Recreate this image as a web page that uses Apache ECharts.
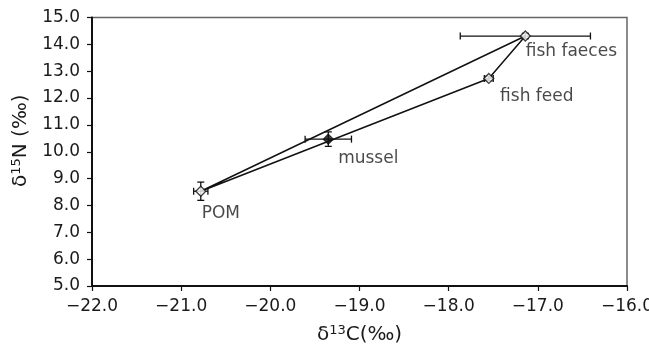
<!DOCTYPE html>
<html>
<head>
<meta charset="utf-8">
<script src="https://cdn.jsdelivr.net/npm/echarts@6/dist/echarts.min.js"></script>
<style>
  html, body { margin: 0; padding: 0; background: #fff; }
  #chart { width: 649px; height: 352px; }
</style>
</head>
<body>
<div id="chart"></div>
<script>
// sources measured
const sources = ['POM', 'mussel', 'fish feed', 'fish faeces'];
const d13C = [-20.78, -19.35, -17.55, -17.14];
const d15N = [8.53, 10.47, 12.73, 14.31];
const errC = [0.08, 0.26, 0.05, 0.73];
const errN = [0.34, 0.27, 0.08, 0.1];
const filled = [false, true, false, false];
// mixing triangle: POM -> fish faeces -> fish feed -> POM
const polygonOrder = [0, 3, 2, 0];

const labelOffsets = [[20, 22], [40, 19], [48, 18], [46, 16]];

const fontFamily = '"DejaVu Sans", sans-serif';
const ink = '#1a1a1a';
const fmt = v => v.toFixed(1).replace('-', '\u2212');

const chart = echarts.init(document.getElementById('chart'));

const errorBars = {
  type: 'custom',
  z: 3,
  data: sources.map((s, i) => [d13C[i], d15N[i], errC[i], errN[i]]),
  renderItem: (params, api) => {
    const x = api.value(0), y = api.value(1), ex = api.value(2), ey = api.value(3);
    const l = api.coord([x - ex, y]), r = api.coord([x + ex, y]);
    const t = api.coord([x, y + ey]), b = api.coord([x, y - ey]);
    const cap = 3.5;
    const style = { stroke: '#111', lineWidth: 1.3 };
    const seg = (x1, y1, x2, y2) => ({ type: 'line', shape: { x1, y1, x2, y2 }, style });
    return {
      type: 'group',
      children: [
        seg(l[0], l[1], r[0], r[1]),
        seg(l[0], l[1] - cap, l[0], l[1] + cap),
        seg(r[0], r[1] - cap, r[0], r[1] + cap),
        seg(t[0], t[1], b[0], b[1]),
        seg(t[0] - cap, t[1], t[0] + cap, t[1]),
        seg(b[0] - cap, b[1], b[0] + cap, b[1])
      ]
    };
  }
};

const titleStyle = padding => ({
  fontFamily, fontSize: 20, color: ink, padding,
  rich: { sup: { fontFamily, fontSize: 13, verticalAlign: 'top', color: ink, padding: [0, 0, 9, 0] } }
});

const option = {
  animation: false,
  grid: {
    left: 92, right: 22, top: 17.5, bottom: 66,
    outerBoundsMode: 'none',
    show: true, borderColor: '#666', borderWidth: 1.5
  },
  xAxis: {
    type: 'value', min: -22, max: -16, interval: 1,
    name: '\u03b4{sup|13}C(\u2030)',
    nameLocation: 'middle', nameGap: 38,
    nameTextStyle: titleStyle([0, 0, 0, 0]),
    axisLine: { lineStyle: { color: '#111', width: 2 } },
    axisTick: { show: true, length: 5, lineStyle: { color: '#111', width: 1.2 } },
    axisLabel: { fontFamily, fontSize: 17, color: ink, margin: 12, formatter: fmt },
    splitLine: { show: false }
  },
  yAxis: {
    type: 'value', min: 5, max: 15, interval: 1,
    name: '\u03b4{sup|15}N (\u2030)',
    nameLocation: 'middle', nameGap: 57, nameRotate: 90,
    nameTextStyle: titleStyle([0, 0, 0, 22]),
    axisLine: { lineStyle: { color: '#111', width: 2 } },
    axisTick: { show: true, length: 5, lineStyle: { color: '#111', width: 1.2 } },
    axisLabel: { fontFamily, fontSize: 17, color: ink, margin: 12, formatter: fmt },
    splitLine: { show: false }
  },
  series: [
    {
      type: 'line',
      z: 2,
      data: polygonOrder.map(i => [d13C[i], d15N[i]]),
      showSymbol: false,
      lineStyle: { color: '#111', width: 1.5 },
      silent: true
    },
    errorBars,
    {
      type: 'scatter',
      z: 4,
      symbol: 'diamond',
      symbolSize: 10,
      data: sources.map((s, i) => ({
        value: [d13C[i], d15N[i]],
        itemStyle: { color: filled[i] ? '#111' : '#fff', borderColor: '#111', borderWidth: 1.3 },
        label: {
          show: true, position: 'inside', offset: labelOffsets[i],
          formatter: s, color: ink, fontFamily, fontSize: 17
        }
      }))
    }
  ]
};

chart.setOption(option);
</script>
</body>
</html>
